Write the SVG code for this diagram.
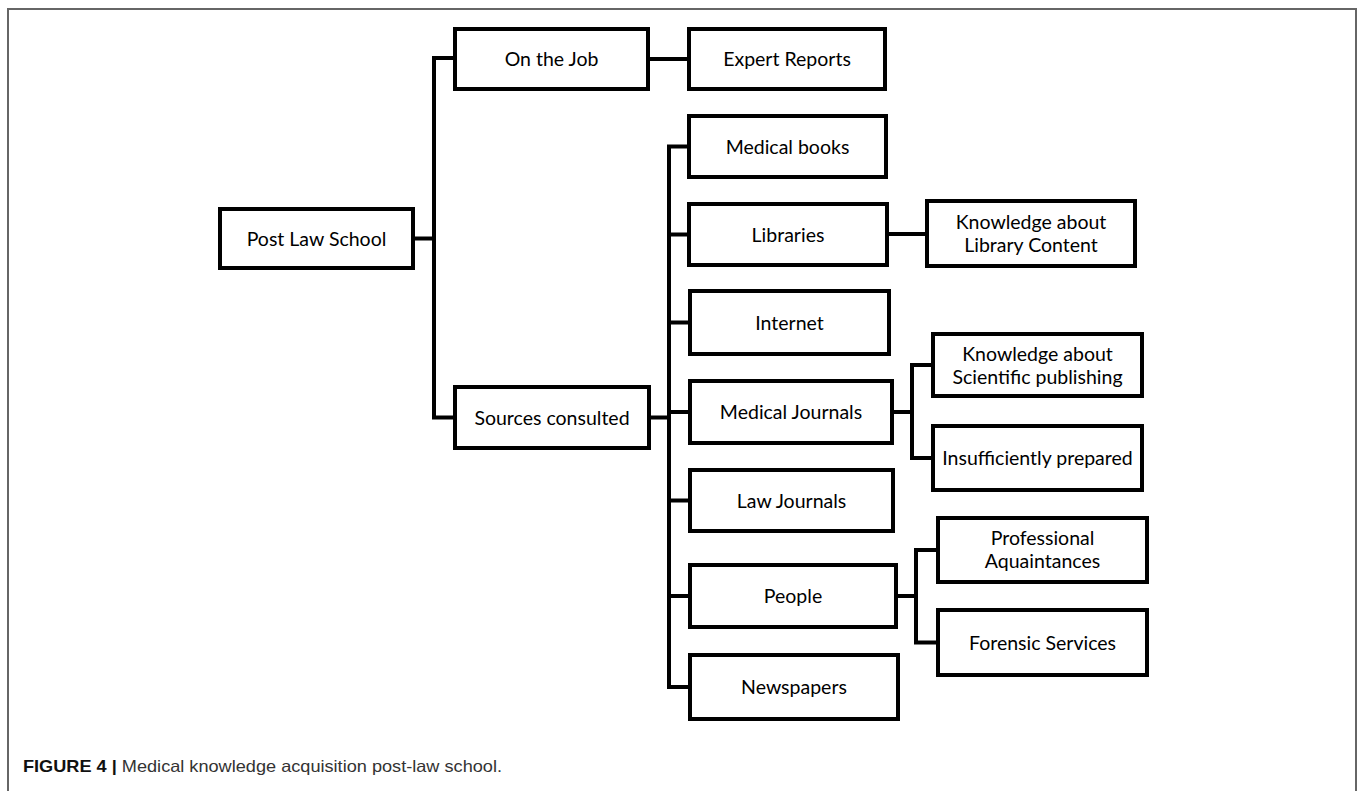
<svg xmlns="http://www.w3.org/2000/svg" width="1360" height="791" viewBox="0 0 1360 791">
<style>
.box{fill:#fff;stroke:#000;stroke-width:4}
.lbl{font-family:Lato,"Open Sans","Liberation Sans",sans-serif;font-size:19.5px;fill:#000;text-anchor:middle}
.con{fill:none;stroke:#000;stroke-width:4;stroke-linejoin:miter}
.frame{fill:none;stroke:#666;stroke-width:2}
.cap{font-family:"Liberation Sans",Arial,sans-serif;font-size:16.5px;fill:#333}
</style>
<rect width="1360" height="791" fill="#fff"/>
<path class="frame" d="M8,791 V9 H1356 V791"/>
<g id="connectors">
<path class="con" d="M415,238.5 H434 M453,58 H434 V417.5 H453"/>
<path class="con" d="M650,59 H687"/>
<path class="con" d="M651,417.5 H669 M689,146.5 H669 V687 H689 M669,234.5 H689 M669,322.5 H689 M669,412 H689 M669,500.5 H689 M669,596 H689"/>
<path class="con" d="M889,234 H925"/>
<path class="con" d="M894,412 H912 M931,365 H912 V458 H931"/>
<path class="con" d="M898,596 H916 M936,550 H916 V642.5 H936"/>
</g>
<g id="n-post"><rect class="box" x="220" y="209" width="193" height="59"/><text class="lbl" x="316.5" y="245.5">Post Law School</text></g>
<g id="n-job"><rect class="box" x="455" y="29" width="193" height="60"/><text class="lbl" x="551.5" y="66">On the Job</text></g>
<g id="n-expert"><rect class="box" x="689" y="29" width="196" height="60"/><text class="lbl" x="787" y="66">Expert Reports</text></g>
<g id="n-books"><rect class="box" x="689" y="116" width="197" height="61"/><text class="lbl" x="787.5" y="153.5">Medical books</text></g>
<g id="n-libraries"><rect class="box" x="689" y="204" width="198" height="61"/><text class="lbl" x="788" y="241.5">Libraries</text></g>
<g id="n-libcontent"><rect class="box" x="927" y="201" width="208" height="65"/><text class="lbl" x="1031" y="229">Knowledge about</text><text class="lbl" x="1031" y="252">Library Content</text></g>
<g id="n-internet"><rect class="box" x="690" y="291" width="199" height="63"/><text class="lbl" x="789.5" y="329.5">Internet</text></g>
<g id="n-sources"><rect class="box" x="455" y="387" width="194" height="61"/><text class="lbl" x="552" y="424.5">Sources consulted</text></g>
<g id="n-medjournals"><rect class="box" x="690" y="381" width="202" height="62"/><text class="lbl" x="791" y="419">Medical Journals</text></g>
<g id="n-scipub"><rect class="box" x="933" y="334" width="209" height="62"/><text class="lbl" x="1037.5" y="361">Knowledge about</text><text class="lbl" x="1037.5" y="384">Scientific publishing</text></g>
<g id="n-insufficient"><rect class="box" x="933" y="426" width="209" height="64"/><text class="lbl" x="1037.5" y="465">Insufficiently prepared</text></g>
<g id="n-lawjournals"><rect class="box" x="690" y="470" width="203" height="61"/><text class="lbl" x="791.5" y="507.5">Law Journals</text></g>
<g id="n-people"><rect class="box" x="690" y="565" width="206" height="62"/><text class="lbl" x="793" y="603">People</text></g>
<g id="n-professional"><rect class="box" x="938" y="518" width="209" height="64"/><text class="lbl" x="1042.5" y="545">Professional</text><text class="lbl" x="1042.5" y="568">Aquaintances</text></g>
<g id="n-forensic"><rect class="box" x="938" y="610" width="209" height="65"/><text class="lbl" x="1042.5" y="649.5">Forensic Services</text></g>
<g id="n-newspapers"><rect class="box" x="690" y="655" width="208" height="64"/><text class="lbl" x="794" y="694">Newspapers</text></g>
<text class="cap" x="23" y="772" textLength="479" lengthAdjust="spacingAndGlyphs"><tspan font-weight="bold" fill="#111">FIGURE 4 |</tspan> Medical knowledge acquisition post-law school.</text>
</svg>
